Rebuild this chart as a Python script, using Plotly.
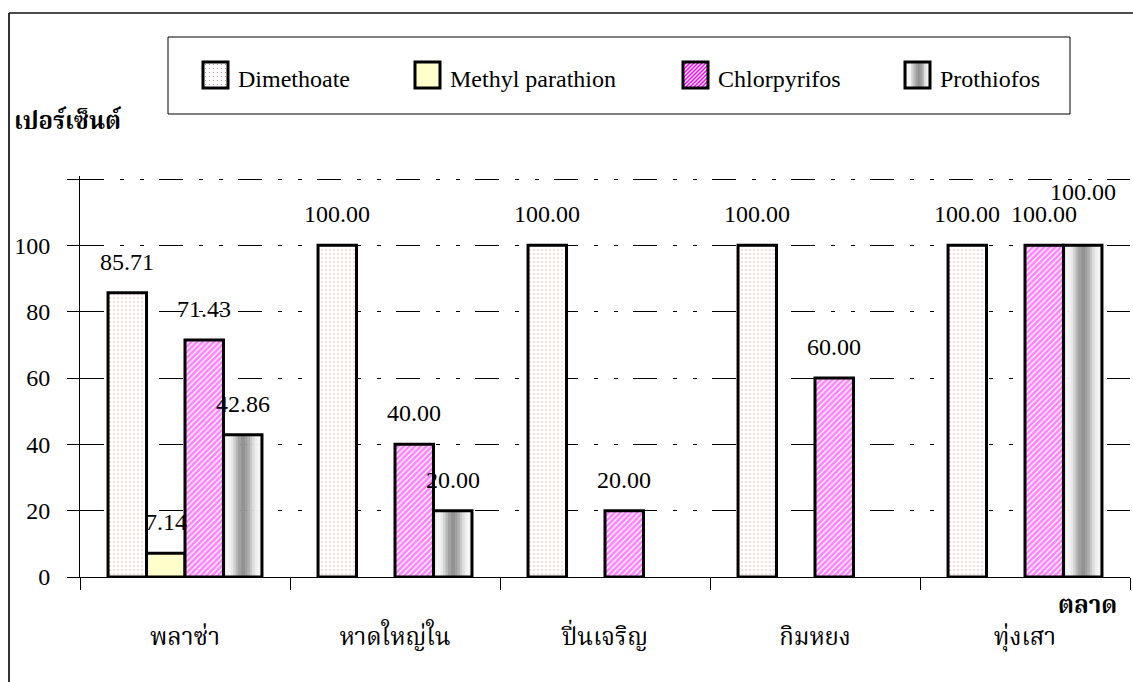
import plotly.graph_objects as go

# ---- data -------------------------------------------------------------
markets = ["พลาซ่า", "หาดใหญ่ใน", "ปิ่นเจริญ", "กิมหยง", "ทุ่งเสา"]
dimethoate = [85.71, 100.00, 100.00, 100.00, 100.00]
methyl_parathion = [7.14, 0, 0, 0, 0]
chlorpyrifos = [71.43, 40.00, 20.00, 60.00, 100.00]
prothiofos = [42.86, 20.00, 0, 0, 100.00]
y_tick_values = [0, 20, 40, 60, 80, 100, 120]
y_tick_labels = ["0", "20", "40", "60", "80", "100", ""]
y_title = "เปอร์เซ็นต์"
x_title = "ตลาด"

# ---- geometry helpers -------------------------------------------------
W, H = 1133, 682
ML, MR, MT, MB = 80, 3, 176, 105
PW, PH = W - ML - MR, H - MT - MB
Y_TOP = 120 * PH / 398  # leaves a little headroom so the 120 grid line is kept


def px(x):
    return (x - ML) / PW


def py(y):
    return (H - MB - y) / PH


SERIF = "Liberation Serif"
THAI = "Noto Serif Thai, Norasi, Kinnari, Liberation Serif"
BW = 0.733 / 4  # bar width in category units


def shown(values):
    return [v if v else None for v in values]


fig = go.Figure()

OUTLINE = dict(color="black", width=3)

# Dimethoate: dotted fill
fig.add_trace(go.Bar(
    x=markets, y=shown(dimethoate), offset=-2 * BW, width=BW, name="Dimethoate",
    marker=dict(color="white", line=OUTLINE,
                pattern=dict(shape=".", fgcolor="#FF6E6E", bgcolor="white", size=4, solidity=0.15)),
    showlegend=False, hoverinfo="skip"))

# Methyl parathion: pale yellow
fig.add_trace(go.Bar(
    x=markets, y=shown(methyl_parathion), offset=-BW, width=BW, name="Methyl parathion",
    marker=dict(color="#FFFFCC", line=OUTLINE),
    showlegend=False, hoverinfo="skip"))

# Chlorpyrifos: magenta diagonal hatching
fig.add_trace(go.Bar(
    x=markets, y=shown(chlorpyrifos), offset=0, width=BW, name="Chlorpyrifos",
    marker=dict(color="white", line=OUTLINE,
                pattern=dict(shape="/", fgcolor="#FF00FF", bgcolor="white", size=4, solidity=0.65)),
    showlegend=False, hoverinfo="skip"))

# Prothiofos: cylinder-like gray gradient built from thin slices
shades = [232, 246, 244, 232, 210, 184, 162, 148, 146, 156, 176, 200, 222, 238, 246, 240]
n = len(shades)
for k, g in enumerate(shades):
    fig.add_trace(go.Bar(
        x=markets, y=shown(prothiofos), offset=BW + k * BW / n, width=BW / n * 1.15,
        marker=dict(color=f"rgb({g},{g},{g})", line=dict(width=0)),
        showlegend=False, hoverinfo="skip"))
fig.add_trace(go.Bar(
    x=markets, y=shown(prothiofos), offset=BW, width=BW, name="Prothiofos",
    marker=dict(color="rgba(0,0,0,0)", line=OUTLINE),
    showlegend=False, hoverinfo="skip"))

# ---- value labels -----------------------------------------------------
annotations = []
series = [(dimethoate, -2 * BW), (methyl_parathion, -BW), (chlorpyrifos, 0), (prothiofos, BW)]
extra_lift = {(4, 3): 22}  # raise the last Prothiofos label clear of its neighbour
for s_idx, (vals, off) in enumerate(series):
    for i, v in enumerate(vals):
        if not v:
            continue
        annotations.append(dict(
            x=i + off + BW / 2, y=v, xref="x", yref="y", text=f"{v:.2f}",
            showarrow=False, yanchor="middle", xanchor="center",
            yshift=31 + extra_lift.get((i, s_idx), 0),
            font=dict(family=SERIF, size=24, color="black")))

# axis titles
annotations.append(dict(x=px(12), y=py(123), xref="paper", yref="paper", text=f"<b>{y_title}</b>",
                        showarrow=False, xanchor="left", yanchor="middle",
                        font=dict(family=THAI, size=24, color="black")))
annotations.append(dict(x=px(1119), y=py(606), xref="paper", yref="paper", text=f"<b>{x_title}</b>",
                        showarrow=False, xanchor="right", yanchor="middle",
                        font=dict(family=THAI, size=24, color="black")))

# ---- legend (drawn by hand) -------------------------------------------
shapes = []
shapes.append(dict(type="rect", xref="paper", yref="paper",
                   x0=px(168), x1=px(1070), y0=py(37), y1=py(114),
                   line=dict(color="black", width=1), fillcolor="white", layer="above"))

legend_items = [("Dimethoate", 203, 236), ("Methyl parathion", 415, 448),
                ("Chlorpyrifos", 683, 716), ("Prothiofos", 905, 938)]
SY0, SY1 = 62, 88

for name, sx, tx in legend_items:
    x0, x1 = sx, sx + 25
    if name == "Dimethoate":
        shapes.append(dict(type="rect", xref="paper", yref="paper", x0=px(x0), x1=px(x1),
                           y0=py(SY0), y1=py(SY1), line=dict(width=0), fillcolor="white", layer="above"))
        for xx in range(x0 + 2, x1, 4):
            for yy in range(SY0 + 2, SY1, 4):
                shapes.append(dict(type="rect", xref="paper", yref="paper",
                                   x0=px(xx), x1=px(xx + 1), y0=py(yy), y1=py(yy + 1),
                                   line=dict(width=0), fillcolor="#F38A8A", layer="above"))
    elif name == "Methyl parathion":
        shapes.append(dict(type="rect", xref="paper", yref="paper", x0=px(x0), x1=px(x1),
                           y0=py(SY0), y1=py(SY1), line=dict(width=0), fillcolor="#FFFFCC", layer="above"))
    elif name == "Chlorpyrifos":
        shapes.append(dict(type="rect", xref="paper", yref="paper", x0=px(x0), x1=px(x1),
                           y0=py(SY0), y1=py(SY1), line=dict(width=0), fillcolor="white", layer="above"))
        segs = []
        for c in range(x0 + SY0, x1 + SY1 + 1, 4):
            xa, xb = max(x0, c - SY1), min(x1, c - SY0)
            if xb <= xa:
                continue
            segs.append(f"M{px(xa)},{py(c - xa)} L{px(xb)},{py(c - xb)}")
        shapes.append(dict(type="path", xref="paper", yref="paper", path=" ".join(segs),
                           line=dict(color="#FF00FF", width=1.6), layer="above"))
    else:
        m = 12
        for k in range(m):
            g = shades[int(k * n / m)]
            shapes.append(dict(type="rect", xref="paper", yref="paper",
                               x0=px(x0 + k * 25 / m), x1=px(x0 + (k + 1.2) * 25 / m),
                               y0=py(SY0), y1=py(SY1), line=dict(width=0),
                               fillcolor=f"rgb({g},{g},{g})", layer="above"))
    shapes.append(dict(type="rect", xref="paper", yref="paper", x0=px(x0), x1=px(x1),
                       y0=py(SY0), y1=py(SY1), line=dict(color="black", width=3), layer="above"))
    annotations.append(dict(x=px(tx), y=py(79), xref="paper", yref="paper", text=name,
                            showarrow=False, xanchor="left", yanchor="middle",
                            font=dict(family=SERIF, size=24, color="black")))

# chart-area border (left and top edges)
shapes.append(dict(type="line", xref="paper", yref="paper", x0=px(9), x1=px(9), y0=py(13), y1=py(682),
                   line=dict(color="#333333", width=2), layer="above"))
shapes.append(dict(type="line", xref="paper", yref="paper", x0=px(9), x1=px(1133), y0=py(13), y1=py(13),
                   line=dict(color="#111111", width=1.5), layer="above"))

fig.update_layout(
    width=W, height=H,
    margin=dict(l=ML, r=MR, t=MT, b=MB),
    paper_bgcolor="white", plot_bgcolor="white",
    barmode="overlay",
    showlegend=False,
    annotations=annotations,
    shapes=shapes,
    xaxis=dict(type="category", range=[-0.5, 4.5], showline=True, linecolor="black", linewidth=1,
               ticks="outside", ticklen=12, tickcolor="black", tickwidth=1, tickson="boundaries",
               showgrid=False, ticklabelstandoff=38,
               tickfont=dict(family=THAI, size=24, color="black")),
    yaxis=dict(range=[0, Y_TOP], tickvals=y_tick_values, ticktext=y_tick_labels,
               showline=True, linecolor="black", linewidth=1,
               ticks="outside", ticklen=12, tickcolor="black", tickwidth=1,
               showgrid=True, gridcolor="black", gridwidth=1,
               griddash="24px,16px,4px,16px,4px,15px", zeroline=False,
               ticklabelstandoff=12,
               tickfont=dict(family=SERIF, size=24, color="black")),
)

fig.write_html("out.html")
